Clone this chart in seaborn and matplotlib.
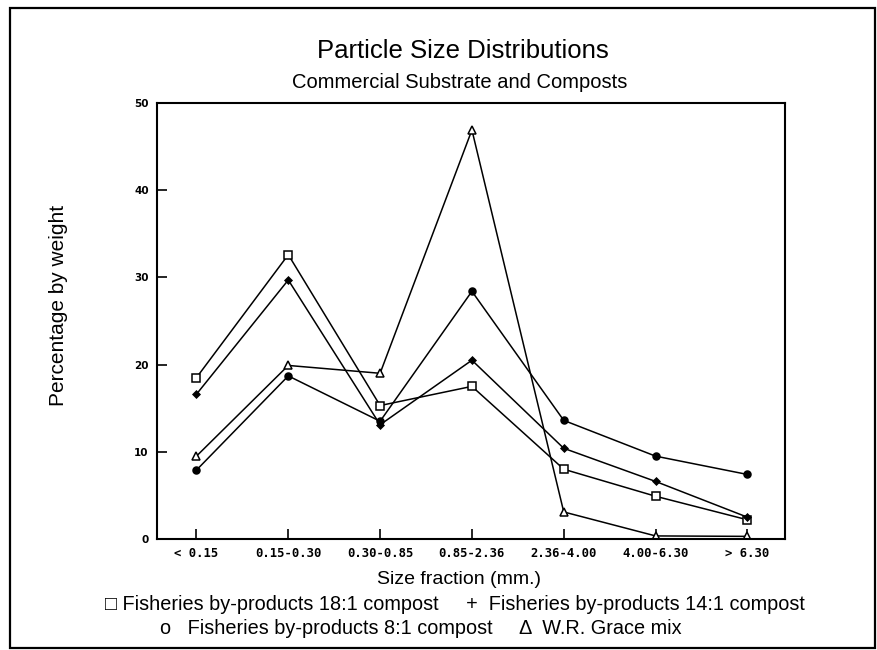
import numpy as np
import pandas as pd
import matplotlib
matplotlib.use("Agg")
import matplotlib.pyplot as plt
import seaborn as sns

# Size fractions (mm) on the x axis
fractions = ["< 0.15", "0.15-0.30", "0.30-0.85", "0.85-2.36", "2.36-4.00", "4.00-6.30", "> 6.30"]

# Percentage by weight retained in each size fraction
fish_18_1 = [18.5, 32.6, 15.3, 17.5, 8.0, 4.9, 2.2]
fish_14_1 = [16.6, 29.7, 13.1, 20.5, 10.4, 6.6, 2.5]
fish_8_1 = [7.9, 18.7, 13.5, 28.4, 13.6, 9.5, 7.4]
grace_mix = [9.5, 19.9, 19.0, 46.9, 3.1, 0.35, 0.3]

series_names = [
    "Fisheries by-products 18:1 compost",
    "Fisheries by-products 14:1 compost",
    "Fisheries by-products 8:1 compost",
    "W.R. Grace mix",
]
series_values = [fish_18_1, fish_14_1, fish_8_1, grace_mix]

yticks = [0, 10, 20, 30, 40, 50]

rows = []
for name, vals in zip(series_names, series_values):
    for i, (frac, v) in enumerate(zip(fractions, vals)):
        rows.append({"fraction": frac, "pos": i, "series": name, "value": v})
df = pd.DataFrame(rows)

sns.set_theme(style="ticks")
plt.rcParams["font.family"] = ["Liberation Sans", "DejaVu Sans"]
plt.rcParams["text.color"] = "black"
plt.rcParams["axes.labelcolor"] = "black"
plt.rcParams["xtick.color"] = "black"
plt.rcParams["ytick.color"] = "black"

fig = plt.figure(figsize=(8.78, 6.5), dpi=100)
ax = fig.add_axes([0.1788, 0.1708, 0.7153, 0.6708])

marker_styles = {
    series_names[0]: dict(marker="s", markersize=6, markerfacecolor="white"),
    series_names[1]: dict(marker="D", markersize=3.5, markerfacecolor="black"),
    series_names[2]: dict(marker="o", markersize=5, markerfacecolor="black"),
    series_names[3]: dict(marker="^", markersize=6, markerfacecolor="white"),
}

for name in series_names:
    sub = df[df["series"] == name]
    sns.lineplot(data=sub, x="pos", y="value", ax=ax, color="black",
                 linewidth=1.1, markeredgecolor="black", markeredgewidth=1.1,
                 legend=False, **marker_styles[name])

ax.set_xlim(-0.43, 6.41)
ax.set_ylim(0, 50)
ax.set_xticks(range(len(fractions)))
ax.set_xticklabels(fractions, fontfamily="DejaVu Sans Mono", fontweight="bold", fontsize=8.8)
ax.set_yticks(yticks)
ax.set_yticklabels([str(t) for t in yticks], fontfamily="DejaVu Sans", fontweight="bold", fontsize=7.5)
ax.tick_params(axis="both", direction="in", length=7, width=1.2, colors="black", pad=6)
ax.set_xlabel("")
ax.set_ylabel("")
for sp in ax.spines.values():
    sp.set_visible(True)
    sp.set_linewidth(1.5)
    sp.set_color("black")

# Titles and axis labels
fig.text(463 / 878, 1 - 58 / 650, "Particle Size Distributions", ha="center", va="baseline", fontsize=18.5)
fig.text(460 / 878, 1 - 88 / 650, "Commercial Substrate and Composts", ha="center", va="baseline", fontsize=14.5)
fig.text(59 / 878, 1 - 305 / 650, "Percentage by weight", ha="center", va="center", rotation=90, fontsize=15)
fig.text(459 / 878, 1 - 580 / 650, "Size fraction (mm.)", ha="center", va="center", fontsize=14)

# Symbol key below the plot
fig.text(455 / 878, 1 - 605 / 650,
         "\u25a1 Fisheries by-products 18:1 compost     +  Fisheries by-products 14:1 compost",
         ha="center", va="center", fontsize=14.3)
fig.text(421 / 878, 1 - 628 / 650,
         "o   Fisheries by-products 8:1 compost     \u0394  W.R. Grace mix",
         ha="center", va="center", fontsize=14.3)

# Outer frame around the whole figure
frame = plt.Rectangle((10 / 878, 2 / 650), 865 / 878, 640 / 650, transform=fig.transFigure,
                      fill=False, edgecolor="black", linewidth=1.6)
fig.patches.append(frame)

fig.savefig("out.png", dpi=100)
